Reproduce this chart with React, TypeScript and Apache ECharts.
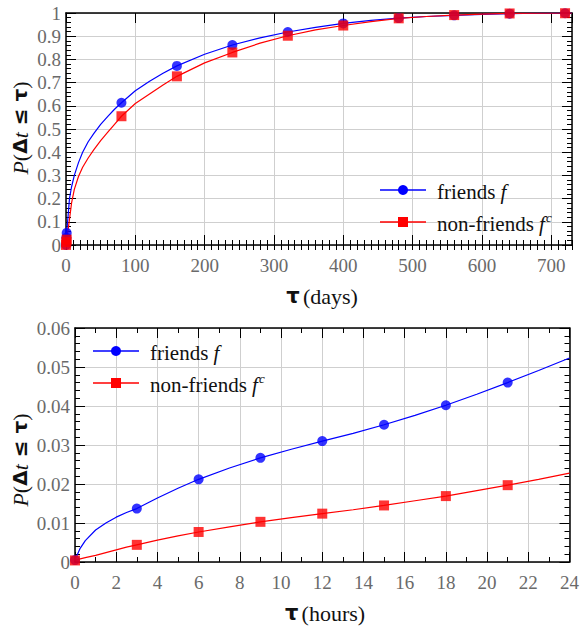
import React, { useEffect, useRef } from 'react';
import * as echarts from 'echarts';

// ---- Top panel (days) ----
const daysCurve = [0, 1, 2, 3, 5, 8, 12, 18, 24, 32, 40, 50, 60, 70, 80, 100, 120, 140, 160, 200, 240, 280, 320, 360, 400, 440, 480, 520, 560, 600, 640, 680, 730];
const friendsDaysCurve = [0.0005, 0.052, 0.09, 0.125, 0.2, 0.25, 0.3, 0.355, 0.4, 0.445, 0.48, 0.52, 0.553, 0.585, 0.613, 0.665, 0.705, 0.74, 0.772, 0.822, 0.862, 0.893, 0.918, 0.938, 0.955, 0.968, 0.978, 0.985, 0.99, 0.994, 0.997, 0.999, 1.0];
const nonFriendsDaysCurve = [0.0004, 0.023, 0.045, 0.065, 0.11, 0.18, 0.24, 0.295, 0.335, 0.375, 0.41, 0.45, 0.485, 0.52, 0.555, 0.61, 0.65, 0.69, 0.727, 0.785, 0.83, 0.87, 0.902, 0.927, 0.946, 0.963, 0.977, 0.985, 0.991, 0.995, 0.998, 0.999, 1.0];
const daysMarkers = [0, 0.5, 1, 80, 160, 240, 320, 400, 480, 560, 640, 720];
const friendsDaysMarkers = [0.0005, 0.031, 0.052, 0.613, 0.772, 0.862, 0.918, 0.955, 0.978, 0.99, 0.997, 0.999];
const nonFriendsDaysMarkers = [0.0004, 0.0124, 0.023, 0.555, 0.727, 0.83, 0.902, 0.946, 0.977, 0.991, 0.998, 0.999];

// ---- Bottom panel (hours) ----
const hoursCurve = [0, 0.25, 0.5, 1, 1.5, 2, 2.5, 3, 4, 5, 6, 7.5, 9, 10.5, 12, 13.5, 15, 16.5, 18, 19.5, 21, 22.5, 24];
const friendsHoursCurve = [0.0005, 0.0035, 0.0055, 0.0082, 0.01, 0.0115, 0.0127, 0.0137, 0.0164, 0.0189, 0.0212, 0.0241, 0.0267, 0.0289, 0.031, 0.033, 0.0352, 0.0376, 0.0402, 0.043, 0.046, 0.0491, 0.0523];
const nonFriendsHoursCurve = [0.0004, 0.0008, 0.0011, 0.0017, 0.0024, 0.0031, 0.0038, 0.0044, 0.0056, 0.0067, 0.0077, 0.009, 0.0103, 0.0114, 0.0124, 0.0134, 0.0145, 0.0157, 0.0169, 0.0183, 0.0197, 0.0212, 0.0228];
const hoursMarkers = [0, 3, 6, 9, 12, 15, 18, 21];
const friendsHoursMarkers = [0.0005, 0.0137, 0.0212, 0.0267, 0.031, 0.0352, 0.0402, 0.046];
const nonFriendsHoursMarkers = [0.0004, 0.0044, 0.0077, 0.0103, 0.0124, 0.0145, 0.0169, 0.0197];

const SERIF = 'Liberation Serif';
const SANS = 'DejaVu Sans';
const BLUE = '#0000ff';
const RED = '#ff0000';

const zip = (xs: number[], ys: number[]) => xs.map((x, i) => [x, ys[i]]);

function frameAxis(extra: any) {
  return {
    type: 'value',
    axisLine: { show: true, onZero: false, lineStyle: { color: '#000', width: 1.5 } },
    axisTick: { show: true, inside: true, length: 10, lineStyle: { color: '#000', width: 1 } },
    minorTick: { show: false },
    axisLabel: { show: false },
    splitLine: { show: false },
    ...extra,
  };
}

const labelStyle = (margin: number) => ({
  show: true,
  fontFamily: SERIF,
  fontSize: 19,
  color: '#6a6a6a',
  margin,
});

const gridLine = { show: true, lineStyle: { color: '#cfcfcf', width: 1 } };
const minor = (n: number) => ({ show: true, splitNumber: n, length: 5, lineStyle: { color: '#000', width: 1 } });

function legendGraphics(x0: number, y1: number, y2: number) {
  const lineLen = 46;
  const mx = x0 + lineLen / 2;
  const tx = x0 + lineLen + 11;
  const rich = {
    r: { fontFamily: SERIF, fontSize: 21, fill: '#111' },
    i: { fontFamily: SERIF, fontSize: 21, fontStyle: 'italic', fill: '#111' },
    s: { fontFamily: SERIF, fontSize: 13, fontStyle: 'italic', fill: '#111', padding: [0, 0, 14, 1] },
  };
  return [
    { type: 'line', shape: { x1: x0, y1, x2: x0 + lineLen, y2: y1 }, style: { stroke: BLUE, lineWidth: 1.3 }, z: 100 },
    { type: 'circle', shape: { cx: mx, cy: y1, r: 5 }, style: { fill: BLUE }, z: 101 },
    { type: 'text', x: tx, y: y1 + 2, style: { text: '{r|friends }{i|f}', rich, verticalAlign: 'middle', align: 'left' }, z: 101 },
    { type: 'line', shape: { x1: x0, y1: y2, x2: x0 + lineLen, y2: y2 }, style: { stroke: RED, lineWidth: 1.3 }, z: 100 },
    { type: 'rect', shape: { x: mx - 5, y: y2 - 5, width: 10, height: 10 }, style: { fill: RED }, z: 101 },
    { type: 'text', x: tx, y: y2 + 2, style: { text: '{r|non-friends }{i|f}{s|c}', rich, verticalAlign: 'middle', align: 'left' }, z: 101 },
  ];
}

function yTitle(x: number, y: number) {
  return {
    type: 'text',
    x,
    y,
    rotation: Math.PI / 2,
    style: {
      text: '{i|P}{r|(}{b|Δ}{i|t}{b| ≤ τ}{r|)}',
      align: 'center',
      verticalAlign: 'middle',
      rich: {
        i: { fontFamily: SERIF, fontSize: 22, fontStyle: 'italic', fill: '#111' },
        r: { fontFamily: SERIF, fontSize: 22, fill: '#111' },
        b: { fontFamily: SANS, fontSize: 20, fontWeight: 'bold', fill: '#111' },
      },
    },
  };
}

function xTitle(x: number, y: number, unit: string) {
  return {
    type: 'text',
    x,
    y,
    style: {
      text: '{b|τ} {r|(' + unit + ')}',
      align: 'center',
      verticalAlign: 'middle',
      rich: {
        r: { fontFamily: SERIF, fontSize: 22, fill: '#111' },
        b: { fontFamily: SANS, fontSize: 21, fontWeight: 'bold', fill: '#111' },
      },
    },
  };
}

function curve(xi: number, yi: number, xs: number[], ys: number[], color: string) {
  return { type: 'line', xAxisIndex: xi, yAxisIndex: yi, data: zip(xs, ys), smooth: false, showSymbol: false, lineStyle: { color, width: 1.2 }, z: 3 };
}

function marks(xi: number, yi: number, xs: number[], ys: number[], color: string, symbol: string, z: number) {
  return { type: 'scatter', xAxisIndex: xi, yAxisIndex: yi, data: zip(xs, ys), symbol, symbolSize: 10, itemStyle: { color }, clip: false, z };
}

export default function App() {
  const ref = useRef<HTMLDivElement>(null);
  useEffect(() => {
    if (!ref.current) return;
    const chart = echarts.init(ref.current, undefined, { renderer: 'svg' });
    const option: any = {
      animation: false,
      backgroundColor: '#ffffff',
      textStyle: { fontFamily: SERIF },
      grid: [
        { left: 66, top: 13, width: 506, height: 232 },
        { left: 75, top: 328, width: 497, height: 234 },
      ],
      xAxis: [
        frameAxis({ gridIndex: 0, position: 'bottom', min: 0, max: 730, interval: 100, axisLabel: { ...labelStyle(11), showMaxLabel: false }, splitLine: gridLine }),
        frameAxis({ gridIndex: 0, position: 'bottom', min: 0, max: 730, interval: 10, axisLine: { show: false }, axisTick: { show: true, inside: true, length: 5, lineStyle: { color: '#000', width: 1 } } }),
        frameAxis({ gridIndex: 0, position: 'top', min: 0, max: 730, interval: 100 }),
        frameAxis({ gridIndex: 0, position: 'top', min: 0, max: 730, interval: 10, axisLine: { show: false }, axisTick: { show: true, inside: true, length: 5, lineStyle: { color: '#000', width: 1 } } }),
        frameAxis({ gridIndex: 1, position: 'bottom', min: 0, max: 24, interval: 2, axisLabel: labelStyle(11), splitLine: gridLine, minorTick: minor(2) }),
        frameAxis({ gridIndex: 1, position: 'top', min: 0, max: 24, interval: 2, minorTick: minor(2) }),
      ],
      yAxis: [
        frameAxis({ gridIndex: 0, position: 'left', min: 0, max: 1, interval: 0.1, axisLabel: labelStyle(5), splitLine: gridLine, minorTick: minor(5) }),
        frameAxis({ gridIndex: 0, position: 'right', min: 0, max: 1, interval: 0.1, minorTick: minor(5) }),
        frameAxis({ gridIndex: 1, position: 'left', min: 0, max: 0.06, interval: 0.01, axisLabel: labelStyle(5), splitLine: gridLine, minorTick: minor(5) }),
        frameAxis({ gridIndex: 1, position: 'right', min: 0, max: 0.06, interval: 0.01, minorTick: minor(5) }),
      ],
      series: [
        curve(0, 0, daysCurve, friendsDaysCurve, BLUE),
        curve(0, 0, daysCurve, nonFriendsDaysCurve, RED),
        marks(0, 0, daysMarkers, friendsDaysMarkers, BLUE, 'circle', 4),
        marks(0, 0, daysMarkers, nonFriendsDaysMarkers, RED, 'rect', 5),
        curve(4, 2, hoursCurve, friendsHoursCurve, BLUE),
        curve(4, 2, hoursCurve, nonFriendsHoursCurve, RED),
        marks(4, 2, hoursMarkers, friendsHoursMarkers, BLUE, 'circle', 4),
        marks(4, 2, hoursMarkers, nonFriendsHoursMarkers, RED, 'rect', 5),
      ],
      graphic: [
        ...legendGraphics(380, 190, 222),
        ...legendGraphics(93, 351, 383),
        yTitle(20, 128),
        yTitle(20, 460),
        xTitle(322, 296, 'days'),
        xTitle(325, 613, 'hours'),
      ],
    };
    chart.setOption(option);
    return () => chart.dispose();
  }, []);
  return <div ref={ref} style={{ position: 'fixed', left: 0, top: 0, width: 582, height: 631 }} />;
}
